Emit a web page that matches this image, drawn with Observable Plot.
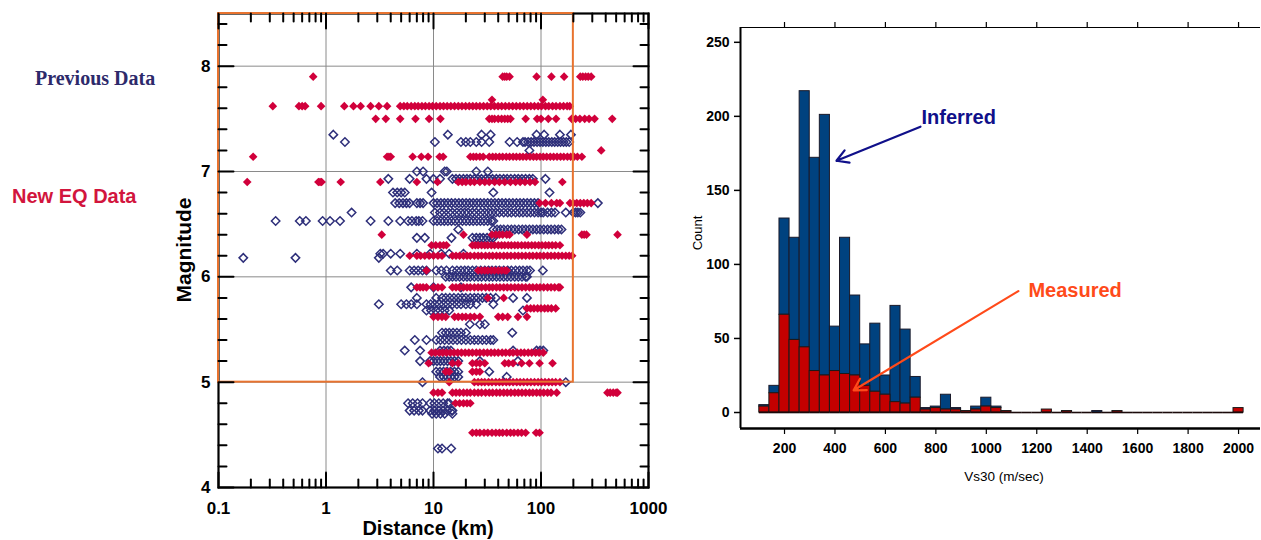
<!DOCTYPE html>
<html><head><meta charset="utf-8">
<script src="https://cdn.jsdelivr.net/npm/d3@7"></script>
<script src="https://cdn.jsdelivr.net/npm/@observablehq/plot@0.6"></script>
<style>
body{margin:0;background:#fff;width:1261px;height:540px;position:relative;overflow:hidden;font-family:"Liberation Sans",Arial,sans-serif}
.abs{position:absolute;white-space:nowrap;line-height:1}
.rot{transform:translate(-50%,-50%) rotate(-90deg)}
.ctr{transform:translate(-50%,-50%)}
</style></head><body>
<div id="left" class="abs" style="left:150px;top:0"></div>
<div id="right" class="abs" style="left:680px;top:0"></div>
<div class="abs" style="left:35px;top:68px;font-family:'Liberation Serif',serif;font-weight:bold;font-size:20px;color:#2d2a6b">Previous Data</div>
<div class="abs" style="left:12px;top:186px;font-weight:bold;font-size:20px;color:#d2153d">New EQ Data</div>
<div class="abs rot" style="left:183px;top:250px;font-weight:bold;font-size:21px;color:#000">Magnitude</div>
<div class="abs ctr" style="left:428px;top:528px;font-weight:bold;font-size:20px;color:#000">Distance (km)</div>
<div class="abs rot" style="left:697px;top:233px;font-size:13px;color:#000">Count</div>
<div class="abs ctr" style="left:1004px;top:477px;font-size:13.5px;color:#000">Vs30 (m/sec)</div>
<script>
// ---------- Left panel: Magnitude vs Distance ----------
const distDomain = [0.1, 1000];
const magDomain = [4, 8.5];
const distLabels = [0.1, 1, 10, 100, 1000];
const distGrid = [1, 10, 100];
const distMinor = [0.2,0.3,0.4,0.5,0.6,0.7,0.8,0.9,2,3,4,5,6,7,8,9,20,30,40,50,60,70,80,90,200,300,400,500,600,700,800,900];
const magLabels = [4, 5, 6, 7, 8];
const magGrid = [5, 6, 7, 8];
const magMinor = [4.2,4.4,4.6,4.8,5.2,5.4,5.6,5.8,6.2,6.4,6.6,6.8,7.2,7.4,7.6,7.8,8.2,8.4];
const regionBox = [{dMin: 0.1, dMax: 200, mMin: 5, mMax: 8.5}];

// Previous Data (open diamonds): [magnitude, distances km]
const previousData = [
  [7.35, [1.17, 13.6, 28, 34, 91, 107, 150, 190]],
  [7.28, [1.5, 10.3, 18, 20, 22, 25, 28, 33, 51, 60, 68, 71, 76, 81, 86, 92, 98, 104, 111, 118, 126, 134, 143, 152, 162, 172, 183]],
  [7.2, [78]],
  [7.0, [7, 8, 12.7, 13.3, 25, 32]],
  [6.93, [3.8, 6.0, 8.6, 10, 11.5, 15, 16.2, 17.5, 19, 20.5, 22, 24, 26, 28, 30.5, 33, 35.5, 38.5, 41.5, 45, 48.5, 52.5, 57, 61.5, 66.5, 72, 78, 84, 110]],
  [6.8, [4.2, 4.6, 5.0, 5.4, 9.6, 36, 120]],
  [6.7, [4.4, 4.8, 5.2, 5.6, 6.0, 7, 7.5, 8, 10, 10.8, 11.7, 12.6, 13.6, 14.7, 15.9, 17.2, 18.6, 20.1, 21.7, 23.4, 25.3, 27.3, 29.5, 31.9, 34.4, 37.2, 40.2, 43.4, 46.9, 50.6, 54.7, 59.1, 63.8, 68.9, 74.4, 80.4, 86.8, 93.8, 338]],
  [6.61, [1.73, 10.3, 11.5, 12.5, 13.8, 15, 16.5, 18, 19.5, 21, 23, 25, 27.5, 30, 32.5, 35, 38, 41, 45, 49, 53, 58, 63, 68, 74, 80, 87, 94, 100, 105, 115, 125, 135, 170, 200, 210, 220, 232]],
  [6.53, [0.34, 0.57, 0.65, 0.93, 1.09, 1.35, 2.6, 3.8, 4.9, 5.8, 6.3, 6.9, 7.3, 7.9, 10, 10.8, 11.7, 12.6, 13.6, 14.7, 15.9, 17.2, 18.6, 20.1, 21.7, 23.4, 25.3, 27.3, 29.5, 31.9, 34.4, 36]],
  [6.45, [17, 36, 39, 42, 45, 49, 53, 57, 62, 67, 72, 78, 84, 91, 98, 106, 115, 124, 134, 145, 155]],
  [6.37, [7, 8.3, 14.7, 23, 25, 27, 29, 31.5, 34, 36]],
  [6.22, [3.2, 3.4, 4, 4.9, 7, 9.3, 11.8, 14, 19]],
  [6.18, [0.17, 0.52, 3.1]],
  [6.06, [4, 4.6, 6, 6.6, 7.2, 7.9, 8.6, 10.6, 11.8, 13.2, 15, 16.5, 18, 19.5, 21, 23, 25, 27.5, 30, 32.5, 35, 38, 41, 45, 49, 53, 58, 63, 68, 74, 79, 104]],
  [6.0, [13, 14, 15, 16.2, 17.5, 19, 20.5, 22, 24, 26, 28, 30.5, 33, 35.5, 38.5, 41.5, 45, 48.5, 52.5, 57, 61.5, 66.5, 72, 74]],
  [5.9, [6.2, 10, 18]],
  [5.8, [7, 10.6, 12, 13, 14.2, 15.5, 17, 18.5, 20, 22, 24, 26, 28.5, 31, 34, 38, 55, 74]],
  [5.74, [3.1, 5, 5.6, 6.2, 7, 8.6, 9.4, 10.3, 11.3, 12.4, 13.6, 15, 16.5, 18, 20, 22, 25, 36]],
  [5.68, [8.6, 9.5, 10.5, 11.5, 12.7, 14, 68]],
  [5.55, [21.8, 27, 30]],
  [5.47, [12, 13, 14, 15.2, 16.5, 18, 20, 54]],
  [5.4, [6.7, 8.6, 10.6, 11.6, 12.7, 13.9, 15.2, 16.6, 18.2, 20, 22, 24, 26, 28.5, 31, 34, 36]],
  [5.3, [5.4, 7.5, 11.5, 12.5, 13.5, 14.5, 55, 91, 98, 105]],
  [5.2, [7.5, 9.3, 10, 10.8, 11.6, 12.5, 13.5, 14.5, 15.7, 17, 27, 61]],
  [5.1, [10.6, 11.5, 12.4, 13.4, 14.5, 15.7, 17, 33]],
  [5.05, [11.5, 12.4, 13.4, 14.5, 15.7, 17, 48]],
  [5.0, [7.9, 170]],
  [4.8, [5.8, 6.4, 7.1, 7.9, 9.3, 10.2, 11.2, 12.3, 13.5, 14]],
  [4.73, [6, 6.6, 7.3, 7.9, 9.3, 10.2, 11.2, 12.3, 13.5, 14.8, 15]],
  [4.7, [9.7, 10.6, 11.6, 12.7, 15]],
  [4.37, [11, 12, 14.6]]
];

// New EQ Data (filled diamonds): [magnitude, distances km]
const newEqData = [
  [7.9, [0.76, 44, 46, 48, 51, 91, 125, 164, 232, 245, 260, 275, 293]],
  [7.68, [35, 104]],
  [7.62, [0.32, 0.56, 0.6, 0.64, 0.9, 1.48, 1.8, 2.1, 2.6, 3.1, 3.7, 4.9, 5.3, 5.7, 6.2, 6.7, 7.2, 7.8, 8.4, 9.1, 9.8, 10.6, 11.5, 12.4, 13.4, 14.5, 15.7, 17, 18.4, 19.9, 21.5, 23.2, 25, 27, 29.2, 31.6, 34.1, 36.9, 39.9, 43.1, 46.6, 50.4, 54.5, 58.9, 63.7, 68.8, 74.4, 80.4, 86.9, 94, 101, 110, 118, 128, 138, 150, 162, 175, 185]],
  [7.5, [2.9, 3.6, 4.9, 6.8, 9.1, 11.6, 33, 35, 37, 40, 43, 46, 49, 52, 72, 92, 100, 117, 138, 193, 210, 230, 255, 280, 315, 460]],
  [7.2, [363]],
  [7.14, [0.21, 3.7, 3.85, 4.0, 6.4, 7.7, 8.9, 11.4, 12.3, 22, 23.5, 25, 27, 29, 33, 35.5, 38, 41, 44, 47.5, 51, 55, 59, 63.5, 68, 73, 79, 85, 91, 98, 105, 113, 122, 131, 141, 152, 163, 176, 189, 203, 218, 240]],
  [6.9, [0.185, 0.85, 0.88, 0.91, 1.37, 3.2, 7, 10.9, 17, 18.5, 20, 22, 24, 27, 30, 33, 37, 41, 46, 52, 58, 64, 71, 79, 88, 158]],
  [6.7, [97, 110, 125, 140, 150, 186, 200, 215, 232, 250, 270, 293]],
  [6.4, [3.3, 19, 35, 38, 41, 44, 48, 51, 74, 240, 252, 265, 515]],
  [6.3, [9.6, 10.5, 11.5, 12.4, 13.2, 23, 24.5, 26, 28, 30, 32, 34.5, 37, 40, 43, 46, 49.5, 53, 57, 61, 66, 71, 76, 82, 88, 95, 102, 110, 118, 127, 137, 150]],
  [6.2, [6.0, 7, 7.6, 8.3, 9.1, 10, 11, 12, 15, 16.2, 17.5, 19, 20.5, 22, 24, 26, 28, 30.5, 33, 35.5, 38.5, 41.5, 45, 48.5, 52.5, 57, 61.5, 66.5, 72, 78, 84, 91, 98, 106, 115, 124, 134, 145, 157, 170, 183, 195]],
  [6.06, [8.6, 26, 28, 30, 32, 34.5, 37, 40, 43, 46, 48]],
  [5.9, [7, 7.5, 8, 8.6, 10, 11, 12, 15, 16.2, 17.5, 19, 20.5, 22, 24, 26, 28, 30.5, 33, 35.5, 38.5, 41.5, 45, 48.5, 52.5, 57, 61.5, 66.5, 72, 78, 84, 91, 98, 106, 115, 124, 134, 145, 150]],
  [5.8, [32, 45]],
  [5.7, [74, 80, 86, 93, 100, 108, 116, 125, 137]],
  [5.62, [10, 11, 12, 13, 15.7, 17, 18.5, 20, 22, 24, 27, 40, 44, 49, 61, 74]],
  [5.28, [9.6, 10.4, 11.3, 12.2, 13.2, 14.3, 15.5, 16.8, 18.2, 19.7, 21.3, 23, 25, 27, 29.3, 31.7, 34.3, 37, 40, 43.5, 47, 51, 55, 60, 65, 70, 76, 82, 89, 96, 105]],
  [5.18, [9, 15, 17, 23, 25, 27, 30, 46, 50, 55, 66, 78, 97, 128]],
  [5.1, [13, 14, 23, 25, 27]],
  [5.0, [14, 24, 26, 28, 30, 32.5, 35, 38, 41, 44, 47.5, 51, 55, 59.5, 64, 69, 74.5, 80.5, 87, 94, 101, 109, 118, 127, 137, 150]],
  [4.9, [10, 11, 12, 15, 16.2, 17.5, 19, 20.5, 22, 24, 26, 28, 30.5, 33, 35.5, 38.5, 41.5, 45, 48.5, 52.5, 57, 61.5, 66.5, 72, 78, 84, 91, 98, 106, 115, 124, 140, 415, 440, 470, 500, 515]],
  [4.8, [16, 17.5, 19, 20.5, 22]],
  [4.52, [23, 25, 27, 29.5, 32, 35, 38, 41, 44, 48, 52, 56, 61, 66, 72, 90, 97]]
];

// ---------- Right panel: Vs30 histogram ----------
const binStarts = [100,140,180,220,260,300,340,380,420,460,500,540,580,620,660,700,740,780,820,860,900,940,980,1020,1060,1100,1140,1180,1220,1260,1300,1340,1380,1420,1460,1500,1540,1580,1620,1660,1700,1740,1780,1820,1860,1900,1940,1980];
const binWidth = 40;
const measuredCounts = [4,13,66,49,44,28,25,28,26,25,18,14,12,7,6,10,2,3,2,2,1,2,4,3,1,0,0,0,2,0,1,0,0,0,0,1,0,0,0,0,0,0,0,0,0,0,0,3];
const inferredCounts = [1,5,65,69,173,144,176,30,92,54,28,46,13,65,50,14,1,1,10,1,0,2,6,1,0,0,0,0,0,0,0,0,0,1,0,0,0,0,0,0,0,0,0,0,0,0,0,0];
const vsTicks = [200,400,600,800,1000,1200,1400,1600,1800,2000];
const countTicks = [0,50,100,150,200,250];
const vsDomain = [25.5, 2087];
const countDomain = [-10.8, 260];
const inferredArrow = [{x1: 739, y1: 193, x2: 406, y2: 170}];
const measuredArrow = [{x1: 1127, y1: 82, x2: 474, y2: 15}];
const inferredLabel = [{x: 743, y: 199, text: "Inferred"}];
const measuredLabel = [{x: 1167, y: 82, text: "Measured"}];

const flat = rows => rows.flatMap(([m, ds]) => ds.map(d => ({d, m})));
const font = "Liberation Sans, Arial, sans-serif";
// inward tick: a straight segment from the anchor point along the vector direction
const tickShape = {draw(ctx, l) { ctx.moveTo(0, 0); ctx.lineTo(0, -l); }};
const inTicks = (values, isX, side, len) => Plot.vector(values, {
  [isX ? "x" : "y"]: d => d,
  frameAnchor: side, length: len, anchor: "start", shape: tickShape,
  rotate: side === "bottom" ? 0 : side === "top" ? 180 : side === "left" ? 90 : -90,
  stroke: "#000", strokeWidth: 2
});

const leftPlot = Plot.plot({
  width: 520, height: 540,
  marginLeft: 68, marginRight: 22, marginTop: 13, marginBottom: 53,
  style: {fontFamily: font, color: "#000", background: "transparent", overflow: "visible"},
  x: {type: "log", domain: distDomain},
  y: {domain: magDomain},
  marks: [
    Plot.gridX(distGrid, {stroke: "#8a8a8a", strokeOpacity: 1, strokeWidth: 1}),
    Plot.gridY(magGrid, {stroke: "#8a8a8a", strokeOpacity: 1, strokeWidth: 1}),
    Plot.dot(flat(previousData), {x: "d", y: "m", symbol: "diamond2", r: 3.8, stroke: "#2e2f7a", strokeWidth: 1.5, fill: "none"}),
    Plot.dot(flat(newEqData), {x: "d", y: "m", symbol: "diamond2", r: 3.9, fill: "#d1003b", stroke: "none"}),
    Plot.frame({stroke: "#000", strokeWidth: 2.2}),
    Plot.rect(regionBox, {x1: "dMin", x2: "dMax", y1: "mMin", y2: "mMax", stroke: "#e8732f", strokeWidth: 2, fill: "none"}),
    inTicks(distLabels, true, "bottom", 15),
    inTicks(distMinor, true, "bottom", 8),
    inTicks(distLabels, true, "top", 15),
    inTicks(distMinor, true, "top", 8),
    inTicks(magLabels, false, "left", 15),
    inTicks(magMinor, false, "left", 8),
    inTicks(magLabels, false, "right", 15),
    inTicks(magMinor, false, "right", 8),
    Plot.axisX({anchor: "bottom", ticks: distLabels, tickSize: 0, tickPadding: 14, tickFormat: d => String(d), label: null, fontSize: 17, fontWeight: "bold"}),
    Plot.axisY({anchor: "left", ticks: magLabels, tickSize: 0, tickPadding: 8, tickFormat: d => String(d), label: null, fontSize: 17, fontWeight: "bold"})
  ]
});
document.getElementById("left").append(leftPlot);

const bins = binStarts.map((lo, i) => ({lo, hi: lo + binWidth, m: measuredCounts[i], top: measuredCounts[i] + inferredCounts[i]}));

const rightPlot = Plot.plot({
  width: 581, height: 540,
  marginLeft: 60, marginRight: 1, marginTop: 27, marginBottom: 112,
  style: {fontFamily: font, color: "#000", background: "transparent", overflow: "visible"},
  x: {domain: vsDomain},
  y: {domain: countDomain},
  marks: [
    Plot.rect(bins, {x1: "lo", x2: "hi", y1: "m", y2: "top", fill: "#00427f", stroke: "#1a1a2a", strokeWidth: 1}),
    Plot.rect(bins, {x1: "lo", x2: "hi", y1: () => 0, y2: "m", fill: "#c40000", stroke: "#1a1a1a", strokeWidth: 1}),
    Plot.ruleY(bins, {x1: "lo", x2: "hi", y: () => 0, stroke: "#1a0a0a", strokeWidth: 1.6}),
    Plot.ruleX([vsDomain[0]], {stroke: "#000", strokeWidth: 2}),
    Plot.ruleY([countDomain[0]], {stroke: "#000", strokeWidth: 2.5}),
    Plot.ruleY([countDomain[1]], {stroke: "#000", strokeWidth: 1.2}),
    Plot.axisY({ticks: countTicks, tickSize: 6, tickPadding: 5, tickFormat: d => String(d), label: null, fontSize: 14, fontWeight: "bold", strokeWidth: 1.5}),
    Plot.axisX({anchor: "top", ticks: vsTicks, tickSize: 6, tickFormat: () => "", label: null, strokeWidth: 1.2}),
    Plot.axisX({anchor: "bottom", ticks: vsTicks, tickSize: 6, tickPadding: 9, tickFormat: d => String(d), label: null, fontSize: 14, fontWeight: "bold", strokeWidth: 1.2}),
    Plot.arrow(inferredArrow, {x1: "x1", y1: "y1", x2: "x2", y2: "y2", stroke: "#10108a", strokeWidth: 2.2, headLength: 9}),
    Plot.arrow(measuredArrow, {x1: "x1", y1: "y1", x2: "x2", y2: "y2", stroke: "#ff4a1a", strokeWidth: 2.2, headLength: 9}),
    Plot.text(inferredLabel, {x: "x", y: "y", text: "text", textAnchor: "start", fill: "#10108a", fontSize: 20, fontWeight: "bold"}),
    Plot.text(measuredLabel, {x: "x", y: "y", text: "text", textAnchor: "start", fill: "#ff4a1a", fontSize: 20, fontWeight: "bold"})
  ]
});
document.getElementById("right").append(rightPlot);
</script>
</body></html>
